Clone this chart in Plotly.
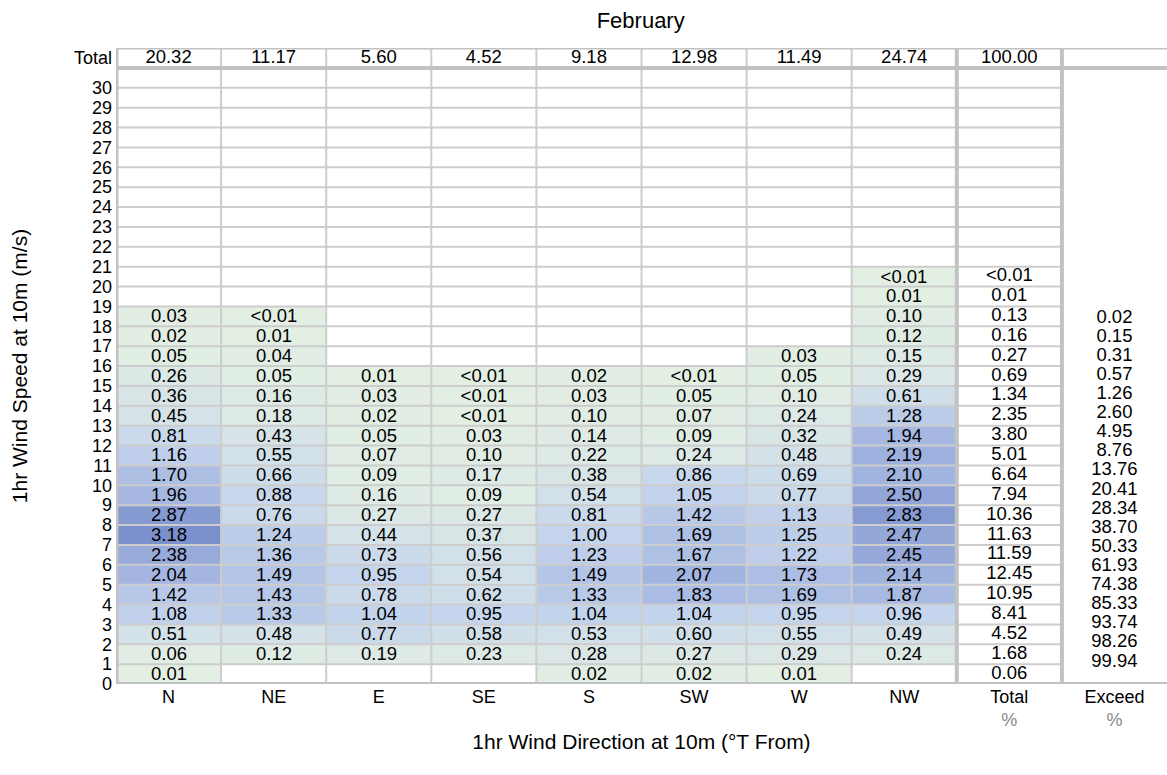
import plotly.graph_objects as go

# Wind speed bins (lower bound, m/s) and direction sectors
directions = ["N", "NE", "E", "SE", "S", "SW", "W", "NW"]
speed_ticks = list(range(0, 31))

# Percent occurrence per sector, listed from the 0-1 m/s bin upwards ("" = no data)
freq_N = ["0.01", "0.06", "0.51", "1.08", "1.42", "2.04", "2.38", "3.18", "2.87", "1.96",
          "1.70", "1.16", "0.81", "0.45", "0.36", "0.26", "0.05", "0.02", "0.03"]
freq_NE = ["", "0.12", "0.48", "1.33", "1.43", "1.49", "1.36", "1.24", "0.76", "0.88",
           "0.66", "0.55", "0.43", "0.18", "0.16", "0.05", "0.04", "0.01", "<0.01"]
freq_E = ["", "0.19", "0.77", "1.04", "0.78", "0.95", "0.73", "0.44", "0.27", "0.16",
          "0.09", "0.07", "0.05", "0.02", "0.03", "0.01"]
freq_SE = ["", "0.23", "0.58", "0.95", "0.62", "0.54", "0.56", "0.37", "0.27", "0.09",
           "0.17", "0.10", "0.03", "<0.01", "<0.01", "<0.01"]
freq_S = ["0.02", "0.28", "0.53", "1.04", "1.33", "1.49", "1.23", "1.00", "0.81", "0.54",
          "0.38", "0.22", "0.14", "0.10", "0.03", "0.02"]
freq_SW = ["0.02", "0.27", "0.60", "1.04", "1.83", "2.07", "1.67", "1.69", "1.42", "1.05",
           "0.86", "0.24", "0.09", "0.07", "0.05", "<0.01"]
freq_W = ["0.01", "0.29", "0.55", "0.95", "1.69", "1.73", "1.22", "1.25", "1.13", "0.77",
          "0.69", "0.48", "0.32", "0.24", "0.10", "0.05", "0.03"]
freq_NW = ["", "0.24", "0.49", "0.96", "1.87", "2.14", "2.45", "2.47", "2.83", "2.50",
           "2.10", "2.19", "1.94", "1.28", "0.61", "0.29", "0.15", "0.12", "0.10", "0.01", "<0.01"]

# Row totals per speed bin, from 0-1 m/s upwards
speed_total = ["0.06", "1.68", "4.52", "8.41", "10.95", "12.45", "11.59", "11.63", "10.36", "7.94",
               "6.64", "5.01", "3.80", "2.35", "1.34", "0.69", "0.27", "0.16", "0.13", "0.01", "<0.01"]

# Column totals per sector and overall
sector_total = ["20.32", "11.17", "5.60", "4.52", "9.18", "12.98", "11.49", "24.74", "100.00"]

# Exceedance percentages for thresholds 1 ... 19 m/s
exceed_thresholds = list(range(1, 20))
exceed_pct = ["99.94", "98.26", "93.74", "85.33", "74.38", "61.93", "50.33", "38.70", "28.34", "20.41",
              "13.76", "8.76", "4.95", "2.60", "1.26", "0.57", "0.31", "0.15", "0.02"]

columns = [freq_N, freq_NE, freq_E, freq_SE, freq_S, freq_SW, freq_W, freq_NW]
n_rows = max(len(c) for c in columns)


def to_num(s):
    if s == "":
        return None
    if s.startswith("<"):
        return float(s[1:]) / 2
    return float(s)


z, txt = [], []
for r in range(n_rows):
    zr, tr = [], []
    for col in columns:
        s = col[r] if r < len(col) else ""
        zr.append(to_num(s))
        tr.append(s)
    z.append(zr)
    txt.append(tr)

FONT = "Liberation Sans, Arial, Helvetica, sans-serif"
DATA_SIZE = 18.5
TICK_SIZE = 18
TITLE_SIZE = 21
GRID_THIN = "#cdcdcd"
GRID_THICK = "#c2c2c2"

colorscale = [
    [0.0, "rgb(227,239,227)"],
    [0.3, "rgb(197,213,237)"],
    [0.62, "rgb(165,183,225)"],
    [1.0, "rgb(122,143,205)"],
]

fig = go.Figure()

fig.add_trace(go.Heatmap(
    x=[i + 0.5 for i in range(len(directions))],
    y=[r + 0.5 for r in range(n_rows)],
    z=z, text=txt, texttemplate="%{text}",
    textfont=dict(family=FONT, size=DATA_SIZE, color="black"),
    colorscale=colorscale, zmin=0, zmax=3.2, showscale=False,
    hoverinfo="skip",
))

# Totals column
fig.add_trace(go.Scatter(
    x=[8.5] * len(speed_total), y=[r + 0.5 for r in range(len(speed_total))],
    text=speed_total, mode="text", textposition="middle center",
    textfont=dict(family=FONT, size=DATA_SIZE, color="black"),
    hoverinfo="skip", showlegend=False,
))

# Totals row along the top
fig.add_trace(go.Scatter(
    x=[i + 0.5 for i in range(len(sector_total))], y=[31.5] * len(sector_total),
    text=sector_total, mode="text", textposition="middle center",
    textfont=dict(family=FONT, size=DATA_SIZE, color="black"),
    hoverinfo="skip", showlegend=False,
))

# Exceedance column: stacked list between the 1 m/s and 19 m/s positions
EX_LOW, EX_HIGH = 1.11, 18.42
step = (EX_HIGH - EX_LOW) / (len(exceed_thresholds) - 1)
fig.add_trace(go.Scatter(
    x=[9.5] * len(exceed_pct),
    y=[EX_LOW + (t - exceed_thresholds[0]) * step for t in exceed_thresholds],
    text=exceed_pct, mode="text", textposition="middle center",
    textfont=dict(family=FONT, size=DATA_SIZE, color="black"),
    hoverinfo="skip", showlegend=False,
))

shapes = []
# horizontal row lines
for yv in range(1, 31):
    shapes.append(dict(type="line", xref="x", yref="y", x0=0, x1=9, y0=yv, y1=yv,
                       line=dict(color=GRID_THIN, width=2)))
# vertical sector lines
for xv in range(1, 8):
    shapes.append(dict(type="line", xref="x", yref="y", x0=xv, x1=xv, y0=0, y1=32,
                       line=dict(color=GRID_THIN, width=2)))
# top border and separator under totals row
shapes.append(dict(type="line", xref="x", yref="y", x0=0, x1=10, y0=32, y1=32,
                   line=dict(color=GRID_THICK, width=3)))
shapes.append(dict(type="line", xref="x", yref="y", x0=0, x1=10, y0=31, y1=31,
                   line=dict(color=GRID_THICK, width=4)))
# thick separators around totals column
for xv in (8, 9):
    shapes.append(dict(type="line", xref="x", yref="y", x0=xv, x1=xv, y0=0, y1=32,
                       line=dict(color=GRID_THICK, width=4)))
# axes
shapes.append(dict(type="line", xref="x", yref="y", x0=0, x1=10, y0=0, y1=0,
                   line=dict(color=GRID_THICK, width=4)))
shapes.append(dict(type="line", xref="x", yref="y", x0=0, x1=0, y0=-0.1, y1=32,
                   line=dict(color=GRID_THICK, width=5)))

x_ticktext = directions + [
    "Total<br><span style='color:#8a8a8a'>%</span>",
    "Exceed<br><span style='color:#8a8a8a'>%</span>",
]

fig.update_layout(
    width=1167, height=775,
    margin=dict(l=116, r=0, t=48, b=91),
    paper_bgcolor="white", plot_bgcolor="white",
    font=dict(family=FONT, size=TICK_SIZE, color="black"),
    shapes=shapes,
    title=dict(text="February", x=0.549, xanchor="center", y=0.974, yanchor="middle",
               font=dict(family=FONT, size=22)),
    xaxis=dict(range=[0, 10], showgrid=False, zeroline=False, showline=False,
               tickvals=[i + 0.5 for i in range(10)], ticktext=x_ticktext,
               ticks="", tickfont=dict(size=TICK_SIZE), ticklabelstandoff=0,
               title=dict(text="1hr Wind Direction at 10m (°T From)", font=dict(size=TITLE_SIZE), standoff=4),
               fixedrange=True),
    yaxis=dict(range=[0, 32], showgrid=False, zeroline=False, showline=False,
               tickvals=speed_ticks + [31.5], ticktext=[str(v) for v in speed_ticks] + ["Total"],
               ticks="", tickfont=dict(size=TICK_SIZE), ticklabelstandoff=3,
               title=dict(text="1hr Wind Speed at 10m (m/s)", font=dict(size=TITLE_SIZE), standoff=40),
               fixedrange=True),
)

fig.write_html("out.html")
